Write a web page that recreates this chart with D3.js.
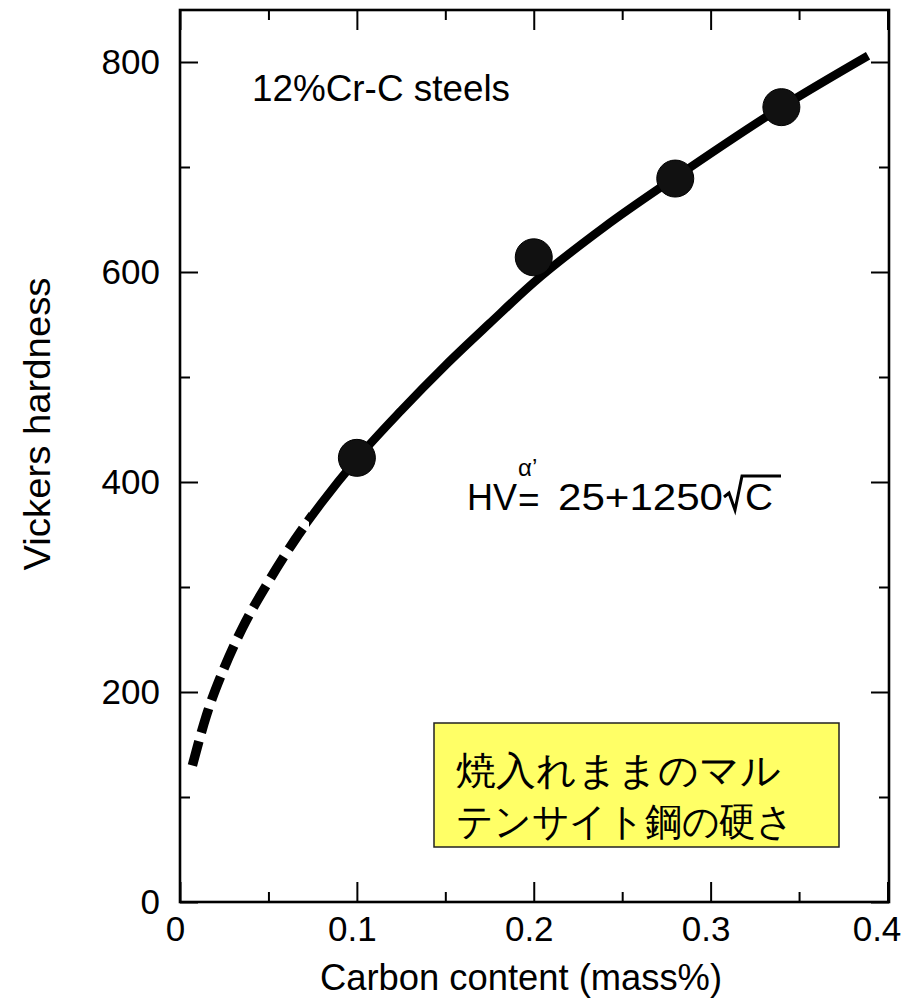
<!DOCTYPE html>
<html>
<head>
<meta charset="utf-8">
<script src="https://cdn.jsdelivr.net/npm/d3@7"></script>
<style>
  html, body { margin: 0; padding: 0; background: #fff; }
  svg { display: block; }
  text { font-family: "Liberation Sans", Arial, Helvetica, sans-serif; fill: #000; }
</style>
</head>
<body>
<script>
// Axis ticks
const xTicks = [0, 0.1, 0.2, 0.3, 0.4];
const xMinorTicks = [0.05, 0.15, 0.25, 0.35];
const yTicks = [0, 200, 400, 600, 800];
const yMinorTicks = [100, 300, 500, 700];

// Measured hardness of as-quenched 12%Cr-C martensite
const carbon = [0.10, 0.20, 0.28, 0.34];
const hardness = [423, 614, 689, 757];

// Fitted curve HV = 25 + 1250 sqrt(C); the low-carbon part is drawn dashed
const curveCarbon = [0.007, 0.015, 0.025, 0.035, 0.05, 0.065, 0.08, 0.10,
                     0.125, 0.15, 0.175, 0.20, 0.24, 0.28, 0.34, 0.389];
const curveHV = [130, 178, 223, 260, 305, 345, 380, 422,
                 468, 511, 551, 590, 643, 690, 757, 806];
const dashedUpTo = 0.073;

const W = 905, H = 1004;
const plot = { left: 180, right: 889, top: 10, bottom: 902 };

const svg = d3.select("body").append("svg").attr("width", W).attr("height", H);

const x = d3.scaleLinear().domain([0, 0.4]).range([plot.left, 887.5]);
const y = d3.scaleLinear().domain([0, 800]).range([plot.bottom, 62]);

const fmtX = d => d === 0 ? "0" : d3.format(".1f")(d);

function styleAxis(g, fontSize) {
  g.select(".domain").remove();
  g.selectAll(".tick line").attr("stroke", "#000").attr("stroke-width", 2);
  g.selectAll(".tick text").attr("font-size", fontSize)
    .attr("font-family", "'Liberation Sans', Arial, Helvetica, sans-serif").attr("fill", "#000");
}

// Left axis: labels and inward ticks
svg.append("g").attr("transform", `translate(${plot.left},0)`)
  .call(d3.axisLeft(y).tickValues(yTicks).tickSize(-18).tickPadding(20))
  .call(g => styleAxis(g, 35));
svg.append("g").attr("transform", `translate(${plot.left},0)`)
  .call(d3.axisLeft(y).tickValues(yMinorTicks).tickSize(-10).tickFormat(""))
  .call(g => styleAxis(g, 0));

// Right axis: inward ticks only
svg.append("g").attr("transform", `translate(${plot.right},0)`)
  .call(d3.axisRight(y).tickValues(yTicks).tickSize(-18).tickFormat(""))
  .call(g => styleAxis(g, 0));
svg.append("g").attr("transform", `translate(${plot.right},0)`)
  .call(d3.axisRight(y).tickValues(yMinorTicks).tickSize(-10).tickFormat(""))
  .call(g => styleAxis(g, 0));

// Bottom axis
svg.append("g").attr("transform", `translate(0,${plot.bottom})`)
  .call(d3.axisBottom(x).tickValues(xTicks).tickSize(-20).tickPadding(14).tickFormat(fmtX))
  .call(g => styleAxis(g, 35))
  .call(g => g.selectAll(".tick text").attr("dx", d => d === 0.4 ? -11 : -5));
svg.append("g").attr("transform", `translate(0,${plot.bottom})`)
  .call(d3.axisBottom(x).tickValues(xMinorTicks).tickSize(-10).tickFormat(""))
  .call(g => styleAxis(g, 0));

// Top axis: inward ticks only
svg.append("g").attr("transform", `translate(0,${plot.top})`)
  .call(d3.axisTop(x).tickValues(xTicks).tickSize(-20).tickFormat(""))
  .call(g => styleAxis(g, 0));
svg.append("g").attr("transform", `translate(0,${plot.top})`)
  .call(d3.axisTop(x).tickValues(xMinorTicks).tickSize(-10).tickFormat(""))
  .call(g => styleAxis(g, 0));

// Frame
svg.append("rect")
  .attr("x", plot.left).attr("y", plot.top)
  .attr("width", plot.right - plot.left).attr("height", plot.bottom - plot.top)
  .attr("fill", "none").attr("stroke", "#000").attr("stroke-width", 2.6);

// Axis titles
svg.append("text")
  .attr("x", 521).attr("y", 990)
  .attr("text-anchor", "middle").attr("font-size", 36)
  .attr("textLength", 402).attr("lengthAdjust", "spacingAndGlyphs")
  .text("Carbon content (mass%)");

svg.append("text")
  .attr("transform", "translate(50,424) rotate(-90)")
  .attr("text-anchor", "middle").attr("font-size", 36)
  .attr("textLength", 293).attr("lengthAdjust", "spacingAndGlyphs")
  .text("Vickers hardness");

// Curve: dashed below dashedUpTo, solid above, using clip regions on one smooth path
const curvePts = curveCarbon.map((c, i) => [c, curveHV[i]]);
const line = d3.line().x(d => x(d[0])).y(d => y(d[1])).curve(d3.curveMonotoneX);
const defs = svg.append("defs");
defs.append("clipPath").attr("id", "lowC").append("rect")
  .attr("x", 0).attr("y", 0).attr("width", x(dashedUpTo)).attr("height", H);
defs.append("clipPath").attr("id", "highC").append("rect")
  .attr("x", x(dashedUpTo)).attr("y", 0).attr("width", W).attr("height", H);

svg.append("path").datum(curvePts)
  .attr("d", line).attr("fill", "none").attr("stroke", "#000")
  .attr("stroke-width", 9.5).attr("stroke-dasharray", "25 9")
  .attr("clip-path", "url(#lowC)");
svg.append("path").datum(curvePts)
  .attr("d", line).attr("fill", "none").attr("stroke", "#000")
  .attr("stroke-width", 8.5)
  .attr("clip-path", "url(#highC)");

// Data points
svg.append("g").selectAll("circle")
  .data(carbon.map((c, i) => [c, hardness[i]]))
  .join("circle")
  .attr("cx", d => x(d[0])).attr("cy", d => y(d[1]))
  .attr("r", 18.5).attr("fill", "#111").attr("stroke", "#000").attr("stroke-width", 1);

// Series label
svg.append("text")
  .attr("x", 252).attr("y", 101).attr("font-size", 36)
  .attr("textLength", 258).attr("lengthAdjust", "spacingAndGlyphs")
  .text("12%Cr-C steels");

// Equation HV(alpha') = 25 + 1250 sqrt(C)
const eq = svg.append("g");
eq.append("text").attr("x", 467).attr("y", 510).attr("font-size", 37)
  .attr("textLength", 50).attr("lengthAdjust", "spacingAndGlyphs").text("HV");
eq.append("text").attr("x", 518).attr("y", 476).attr("font-size", 24)
  .attr("font-family", "'DejaVu Serif', 'Liberation Serif', serif").text("α’");
eq.append("text").attr("x", 518).attr("y", 512).attr("font-size", 37).text("=");
eq.append("text").attr("x", 558).attr("y", 510).attr("font-size", 37)
  .attr("textLength", 165).attr("lengthAdjust", "spacingAndGlyphs").text("25+1250");
eq.append("path")
  .attr("d", "M724,497 L729,493 L735,510 L742,476 L781,476")
  .attr("fill", "none").attr("stroke", "#000").attr("stroke-width", 3)
  .attr("stroke-linejoin", "miter");
eq.append("text").attr("x", 745).attr("y", 510).attr("font-size", 37)
  .attr("textLength", 28).attr("lengthAdjust", "spacingAndGlyphs").text("C");

// Japanese caption box
svg.append("rect")
  .attr("x", 434).attr("y", 723).attr("width", 405).attr("height", 124)
  .attr("fill", "#ffff66").attr("stroke", "#222").attr("stroke-width", 1.5);
const jp = svg.append("g");
jp.append("text").attr("x", 456).attr("y", 784)
  .attr("font-family", "'Noto Sans CJK JP', sans-serif").attr("font-size", 39)
  .attr("textLength", 325).attr("lengthAdjust", "spacingAndGlyphs")
  .text("焼入れままのマル");
jp.append("text").attr("x", 456).attr("y", 835)
  .attr("font-family", "'Noto Sans CJK JP', sans-serif").attr("font-size", 39)
  .attr("textLength", 338).attr("lengthAdjust", "spacingAndGlyphs")
  .text("テンサイト鋼の硬さ");
</script>
</body>
</html>
